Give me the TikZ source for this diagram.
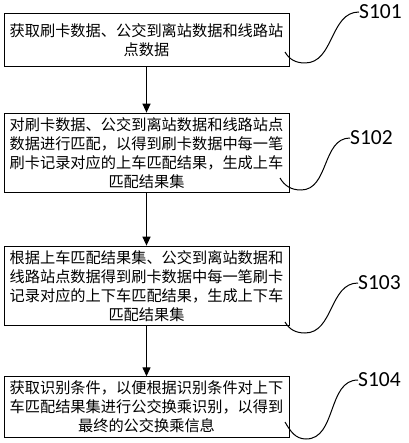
\documentclass[tikz,border=0pt]{standalone}
\usepackage{fontspec}
\newfontfamily\cjk{Noto Sans CJK SC}
\newfontfamily\labfont{Carlito}
\usetikzlibrary{arrows.meta}
\begin{document}
\begin{tikzpicture}[x=1pt,y=-1pt,
  stepbox/.style={draw=black, line width=0.8pt, minimum width=285pt, text width=275pt,
    align=center, inner sep=0pt, font=\cjk\fontsize{15.2}{19}\selectfont},
  flow/.style={-{Triangle[width=8pt,length=9pt]}, line width=1.3pt},
  lead/.style={line width=1pt},
  steplabel/.style={anchor=west, inner sep=0pt, font=\labfont\fontsize{21.5}{24}\selectfont}]
\useasboundingbox (0,0) rectangle (408,443);
\node[stepbox, minimum height=53.4pt] (b1) at (146.5,40) {获取刷卡数据、公交到离站数据和线路站\\点数据};
\node[stepbox, minimum height=79.7pt] (b2) at (146.5,152.9) {对刷卡数据、公交到离站数据和线路站点\\数据进行匹配，以得到刷卡数据中每一笔\\刷卡记录对应的上车匹配结果，生成上车\\匹配结果集};
\node[stepbox, minimum height=79.7pt] (b3) at (146.5,285.9) {根据上车匹配结果集、公交到离站数据和\\线路站点数据得到刷卡数据中每一笔刷卡\\记录对应的上下车匹配结果，生成上下车\\匹配结果集};
\node[stepbox, minimum height=61pt] (b4) at (146.5,407.2) {获取识别条件，以便根据识别条件对上下\\车匹配结果集进行公交换乘识别，以得到\\最终的公交换乘信息};
\draw[flow] (b1) -- (b2);
\draw[flow] (b2) -- (b3);
\draw[flow] (b3) -- (b4);
\node[steplabel] (l1) at (359,12) {S101};
\node[steplabel] (l2) at (350,138) {S102};
\node[steplabel] (l3) at (358,283) {S103};
\node[steplabel] (l4) at (358,380) {S104};
\coordinate (s1) at (285,52);  \coordinate (t1) at (305,63);
\coordinate (s2) at (280,178); \coordinate (t2) at (301,190);
\coordinate (s3) at (285,322); \coordinate (t3) at (305,333);
\coordinate (s4) at (285,422); \coordinate (t4) at (306,439);
\draw[lead] (s1) to[out=-60,in=180] (t1) to[out=0,in=180] (l1.west);
\draw[lead] (s2) to[out=-60,in=180] (t2) to[out=0,in=180] (l2.west);
\draw[lead] (s3) to[out=-60,in=180] (t3) to[out=0,in=180] (l3.west);
\draw[lead] (s4) to[out=-60,in=180] (t4) to[out=0,in=180] (l4.west);
\end{tikzpicture}
\end{document}
